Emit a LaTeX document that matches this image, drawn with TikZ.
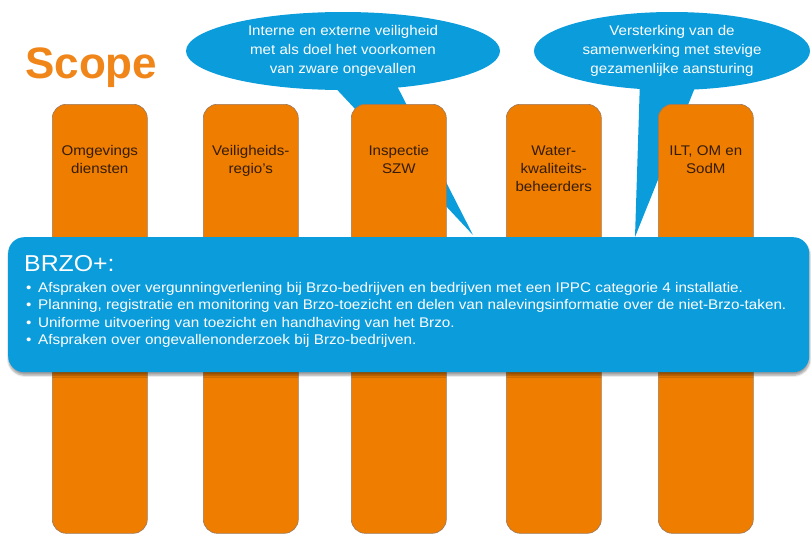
\documentclass[tikz,border=0pt]{standalone}
\usepackage{fontspec}
\setmainfont{Liberation Sans}[FakeStretch=1.08]
\newfontfamily\scopefont{Liberation Sans}
\newfontfamily\listfont{Liberation Sans}[FakeStretch=1.09]
\usetikzlibrary{shapes.geometric,shadows.blur}
\definecolor{pillarfill}{HTML}{EE7D00}
\definecolor{pillarline}{HTML}{9A7A60}
\definecolor{pillartxt}{HTML}{351C05}
\definecolor{bubblue}{HTML}{0A9CDB}
\definecolor{scopeorange}{HTML}{F08519}
\tikzset{
  pillarbox/.style={draw=pillarline, line width=0.6pt, fill=pillarfill, rounded corners=14pt,
    minimum width=95pt, minimum height=429pt, anchor=north west, inner sep=0pt},
  pillartext/.style={anchor=north, align=center, text=pillartxt, inner sep=0pt,
    font=\fontsize{14}{18}\selectfont},
  bubble/.style={ellipse, fill=bubblue, inner sep=0pt, text=white, align=center,
    font=\fontsize{14}{19}\selectfont},
  bigbox/.style={fill=bubblue, rounded corners=16pt, anchor=north west, inner sep=0pt,
    minimum width=801pt, minimum height=135pt,
    blur shadow={shadow xshift=0.5pt, shadow yshift=-3pt, shadow blur steps=6, shadow opacity=40}},
  listline/.style={anchor=base west, inner sep=0pt, text=white, font=\listfont\fontsize{14}{17}\selectfont},
}
\begin{document}
\begin{tikzpicture}[x=1pt,y=-1pt]
\useasboundingbox (0,0) rectangle (811,538);
% title
\node[anchor=base west, inner sep=0pt, text=scopeorange,
  font=\scopefont\bfseries\fontsize{44}{44}\selectfont] (scope) at (25,78) {Scope};
% callout tails
\coordinate (c1a) at (328,80);
\coordinate (c1b) at (394,80);
\coordinate (c1tip) at (473,235);
\coordinate (c2a) at (640,80);
\coordinate (c2b) at (698,80);
\coordinate (c2tip) at (635,237);
\fill[bubblue] (c1a) -- (c1tip) -- (c1b) -- cycle;
\fill[bubblue] (c2a) -- (c2tip) -- (c2b) -- cycle;
% callouts
\node[bubble, minimum width=314pt, minimum height=78pt] (e1) at (343,51)
  {Interne en externe veiligheid\\met als doel het voorkomen\\van zware ongevallen};
\node[bubble, minimum width=276pt, minimum height=78pt] (e2) at (672,51)
  {Versterking van de\\samenwerking met stevige\\gezamenlijke aansturing};
% pillars
\node[pillarbox] (p1) at (52,104) {};
\node[pillarbox] (p2) at (203,104) {};
\node[pillarbox] (p3) at (351,104) {};
\node[pillarbox] (p4) at (506,104) {};
\node[pillarbox] (p5) at (658,104) {};
\node[pillartext] (t1) at ([yshift=-41.5pt]p1.north) {Omgevings\\diensten};
\node[pillartext] (t2) at ([yshift=-41.5pt]p2.north) {Veiligheids-\\regio's};
\node[pillartext] (t3) at ([yshift=-41.5pt]p3.north) {Inspectie\\SZW};
\node[pillartext] (t4) at ([yshift=-41.5pt]p4.north) {Water-\\kwaliteits-\\beheerders};
\node[pillartext] (t5) at ([yshift=-41.5pt]p5.north) {ILT, OM en\\SodM};
% BRZO+ box
\node[bigbox] (brzo) at (8,237) {};
\node[anchor=base west, inner sep=0pt, text=white, font=\fontsize{23}{23}\selectfont]
  (head) at (24,271) {BRZO+:};
\node[listline] (b1) at (26,292) {\textbullet};
\node[listline] (b2) at (26,309.5) {\textbullet};
\node[listline] (b3) at (26,327) {\textbullet};
\node[listline] (b4) at (26,344.5) {\textbullet};
\node[listline] (l1) at (38,292) {Afspraken over vergunningverlening bij Brzo-bedrijven en bedrijven met een IPPC categorie 4 installatie.};
\node[listline] (l2) at (38,309.5) {Planning, registratie en monitoring van Brzo-toezicht en delen van nalevingsinformatie over de niet-Brzo-taken.};
\node[listline] (l3) at (38,327) {Uniforme uitvoering van toezicht en handhaving van het Brzo.};
\node[listline] (l4) at (38,344.5) {Afspraken over ongevallenonderzoek bij Brzo-bedrijven.};
\end{tikzpicture}
\end{document}
